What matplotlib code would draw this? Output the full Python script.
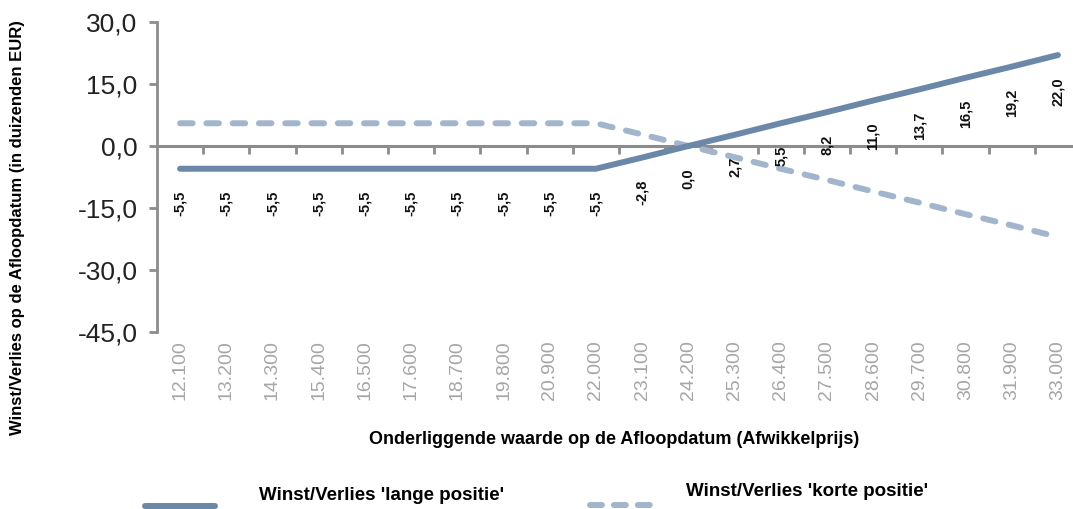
import numpy as np
import matplotlib
matplotlib.use("Agg")
import matplotlib.pyplot as plt
from matplotlib.lines import Line2D

plt.rcParams['font.family'] = ['Liberation Sans', 'DejaVu Sans']

# --- data ---
koersen = ['12.100', '13.200', '14.300', '15.400', '16.500', '17.600', '18.700',
           '19.800', '20.900', '22.000', '23.100', '24.200', '25.300', '26.400',
           '27.500', '28.600', '29.700', '30.800', '31.900', '33.000']
lange_positie = [-5.5, -5.5, -5.5, -5.5, -5.5, -5.5, -5.5, -5.5, -5.5, -5.5,
                 -2.8, 0.0, 2.7, 5.5, 8.2, 11.0, 13.7, 16.5, 19.2, 22.0]
korte_positie = [5.5, 5.5, 5.5, 5.5, 5.5, 5.5, 5.5, 5.5, 5.5, 5.5,
                 2.8, 0.0, -2.7, -5.5, -8.2, -11.0, -13.7, -16.5, -19.2, -22.0]
y_ticks = [30, 15, 0, -15, -30, -45]

KLEUR_LANG = '#6b88a9'
KLEUR_KORT = '#a3b5cc'
AS_GRIJS = '#8c8c8c'
STREEP = (2.1, 2.3)

fig = plt.figure(figsize=(10.73, 5.09), dpi=100)
ax = fig.add_axes([157 / 1073, 177 / 509, 924 / 1073, 310 / 509])

x = np.arange(len(koersen))
ax.plot(x, korte_positie, color=KLEUR_KORT, lw=4.3, dashes=STREEP,
        dash_capstyle='round', zorder=3)
ax.plot(x, lange_positie, color=KLEUR_LANG, lw=4.3, solid_capstyle='round',
        solid_joinstyle='round', zorder=4)

# data labels onder de punten
for xi, v in zip(x, lange_positie):
    ax.annotate(f'{v:.1f}'.replace('.', ','), (xi, v), xytext=(0, -16),
                textcoords='offset points', rotation=90, ha='center', va='top',
                fontsize=10.5, fontweight='bold', color='#111111', zorder=5)

ax.set_xlim(-0.5, len(koersen) - 0.5)
ax.set_ylim(-45, 30)

# assen
for s in ['top', 'right', 'bottom']:
    ax.spines[s].set_visible(False)
ax.spines['left'].set_color(AS_GRIJS)
ax.spines['left'].set_linewidth(2)
ax.axhline(0, color=AS_GRIJS, lw=2.2, zorder=2)

ax.set_yticks(y_ticks)
ax.set_yticklabels([f'{t:.1f}'.replace('.', ',') for t in y_ticks])
ax.tick_params(axis='y', direction='out', length=6, width=2, color=AS_GRIJS,
               labelsize=19, labelcolor='#222222', pad=8)

ax.set_xticks(x)
ax.set_xticklabels(koersen, rotation=90)
ax.tick_params(axis='x', length=0, labelsize=14, labelcolor='#a6a6a6', pad=6)

# tick marks op de nullijn tussen de categorieen (naar beneden)
sec = ax.secondary_xaxis(45 / 75)
for s in sec.spines.values():
    s.set_visible(False)
sec.set_xticks(x[:-1] + 0.5)
sec.set_xticklabels([])
sec.tick_params(axis='x', direction='in', length=6, width=2, color=AS_GRIJS)

fig.text(18 / 1073, 1 - 228 / 509, 'Winst/Verlies op de Afloopdatum (in duizenden EUR)',
         rotation=90, ha='center', va='center', fontsize=12, fontweight='bold')
fig.text(614 / 1073, 1 - 440 / 509,
         'Onderliggende waarde op de Afloopdatum (Afwikkelprijs)',
         ha='center', va='center', fontsize=13, fontweight='bold')

# legenda
fig.add_artist(Line2D([145 / 1073, 215 / 1073], [1 - 506 / 509] * 2,
                      color=KLEUR_LANG, lw=4.3, solid_capstyle='round',
                      transform=fig.transFigure))
fig.text(259 / 1073, 1 - 495 / 509, "Winst/Verlies 'lange positie'",
         ha='left', va='center', fontsize=13.5, fontweight='bold')
fig.add_artist(Line2D([590 / 1073, 650 / 1073], [1 - 505 / 509] * 2,
                      color=KLEUR_KORT, lw=4.3, dashes=(2, 2), dash_capstyle='round',
                      transform=fig.transFigure))
fig.text(686 / 1073, 1 - 492 / 509, "Winst/Verlies 'korte positie'",
         ha='left', va='center', fontsize=13.5, fontweight='bold')

fig.savefig('out.png', dpi=100)
